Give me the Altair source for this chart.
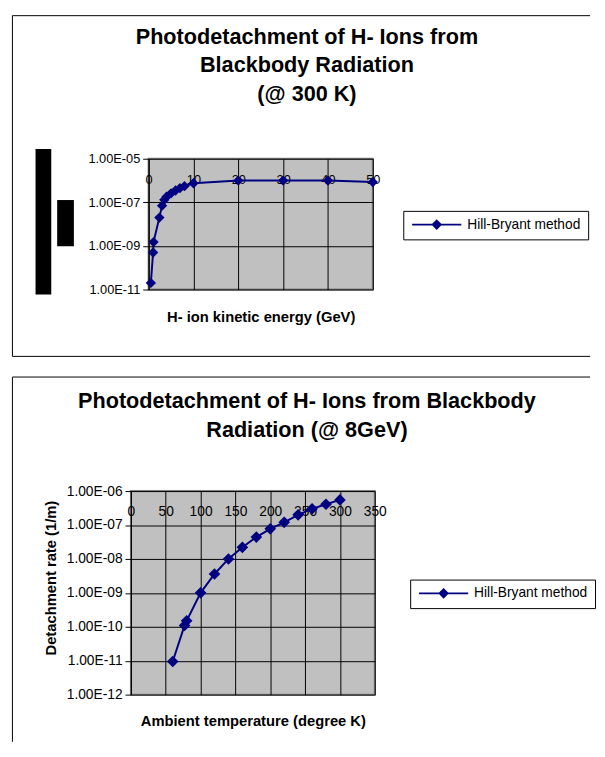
import altair as alt
import pandas as pd

FONT = "Liberation Sans"
NAVY = "#000080"
SERIES = "Hill-Bryant method"

# ---- Chart 1: rate vs H- kinetic energy (@ 300 K) ----
energy_gev = [0.5, 1.0, 1.1, 2.4, 3.0, 3.5, 4.0, 5.0, 6.0, 7.0, 8.0, 10.0, 20.0, 30.0, 40.0, 50.0]
rate_300k = [2.0e-11, 5.0e-10, 1.5e-9, 2.0e-8, 7.0e-8, 1.3e-7, 1.8e-7, 2.6e-7, 3.5e-7,
             4.5e-7, 5.5e-7, 7.5e-7, 1.0e-6, 1.0e-6, 1.0e-6, 8.5e-7]
energy_ticks = [0, 10, 20, 30, 40, 50]
rate_ticks_top = [1e-11, 1e-9, 1e-7, 1e-5]
title_top = ["Photodetachment of H- Ions from", "Blackbody Radiation", "(@ 300 K)"]
xtitle_top = "H- ion kinetic energy (GeV)"

# ---- Chart 2: rate vs ambient temperature (@ 8 GeV) ----
temperature_k = [60, 77, 80, 100, 120, 140, 160, 180, 200, 220, 240, 260, 280, 300]
rate_8gev = [9.5e-12, 1.1e-10, 1.5e-10, 1.0e-9, 3.6e-9, 1.0e-8, 2.2e-8, 4.4e-8, 7.7e-8,
             1.2e-7, 2.0e-7, 3.0e-7, 4.1e-7, 5.5e-7]
temperature_ticks = [0, 50, 100, 150, 200, 250, 300, 350]
rate_ticks_bottom = [1e-12, 1e-11, 1e-10, 1e-9, 1e-8, 1e-7, 1e-6]
title_bottom = ["Photodetachment of H- Ions from Blackbody", "Radiation (@ 8GeV)"]
xtitle_bottom = "Ambient temperature (degree K)"
ytitle_bottom = "Detachment rate (1/m)"

EXP_LABEL = ("'1.00E-' + (round(-log(datum.value)/LN10) < 10 ? '0' : '') + "
             "round(-log(datum.value)/LN10)")
LEGEND_PATH = "M-5,0L5,0M0,-0.8L0.8,0L0,0.8L-0.8,0Z"

one = pd.DataFrame({"k": [0]})


def rule(x, x2, y, y2):
    return alt.Chart(one).mark_rule(color="black", strokeWidth=1).encode(
        x=alt.value(x), x2=alt.value(x2), y=alt.value(y), y2=alt.value(y2))


def block(x, x2, y, y2):
    return alt.Chart(one).mark_rect(color="black").encode(
        x=alt.value(x), x2=alt.value(x2), y=alt.value(y), y2=alt.value(y2))


def spacer():
    return alt.Chart(one).mark_rule(opacity=0, strokeWidth=0).encode(
        x=alt.value(0), y=alt.value(0), y2=alt.value(1)
    ).properties(width=1, height=1,
                 view=alt.ViewBackground(fill="transparent", stroke="transparent"))


def legend(lx, ly):
    return alt.Legend(title=None, orient="none", legendX=lx, legendY=ly,
                      symbolType=LEGEND_PATH, symbolSize=100, symbolStrokeWidth=2,
                      symbolStrokeColor=NAVY, symbolFillColor=NAVY, symbolOffset=20,
                      labelFontSize=14, labelColor="black", labelFont=FONT,
                      labelOffset=24, strokeColor="black", fillColor="white",
                      padding=7)


def panel(df, xf, yf, W, H, x0, xdom, xticks, ydom, yticks, lab_size, xtitle, xt_size,
          xt_y, ytitle, lx, ly, title, tdy, pt_size, key):
    color = alt.Color("S:N", scale=alt.Scale(domain=[SERIES], range=[NAVY]),
                      legend=legend(lx, ly), title=key)
    x = alt.X(f"{xf}:Q", scale=alt.Scale(domain=xdom, nice=False, zero=False),
              axis=alt.Axis(values=xticks, orient="bottom", domain=False, ticks=False,
                            tickSize=0, labelPadding=-(H - 21), labelBaseline="middle",
                            labelFlush=False, labelOverlap=False, labelFontSize=lab_size,
                            labelColor="black", labelFont=FONT, gridColor="black",
                            gridOpacity=1, title=xtitle, titleFontSize=xt_size,
                            titleFont=FONT, titleFontWeight="bold", titleColor="black",
                            titleY=xt_y, titleBaseline="middle"))
    yaxis = dict(values=yticks, labelExpr=EXP_LABEL, tickSize=6, tickColor="black",
                 domainColor="black", gridColor="black", gridOpacity=1,
                 labelFontSize=lab_size, labelColor="black", labelFont=FONT,
                 labelPadding=3)
    if ytitle:
        yaxis.update(title=ytitle, titleFontSize=15, titleFont=FONT,
                     titleFontWeight="bold", titleColor="black", titleAngle=270,
                     titleX=-82, titleY=88, titleBaseline="middle", titleAlign="center")
    else:
        yaxis.update(title=None)
    y = alt.Y(f"{yf}:Q", scale=alt.Scale(type="log", domain=ydom, nice=False),
              axis=alt.Axis(**yaxis))
    base = alt.Chart(df)
    line = base.mark_line(strokeWidth=2).encode(x=x, y=y, color=color)
    pts = base.mark_point(shape="diamond", filled=True, size=pt_size, color=NAVY,
                          opacity=1).encode(x=x, y=y)
    # title centred on the whole framed box (page x ~309), not on the plot
    return line, pts, alt.TitleParams(text=title, anchor="start", align="center",
                                      frame="group", dx=309 - x0, dy=tdy, offset=0,
                                      baseline="top", fontSize=22, font=FONT,
                                      fontWeight="bold", lineHeight=29, color="black")


df1 = pd.DataFrame({"E": energy_gev, "R": rate_300k, "S": SERIES})
df2 = pd.DataFrame({"T": temperature_k, "R": rate_8gev, "S": SERIES})

W1, H1 = 228, 133
l1, p1, t1 = panel(df1, "E", "R", W1, H1, 148, [0, 50], energy_ticks, [1e-11, 1e-5],
                   rate_ticks_top, 13, xtitle_top, 15, 28, None, 259, 53,
                   title_top, 92, 110, "a")
top = alt.layer(
    rule(-138.5, 449, -145.5, -145.5),
    rule(-138.5, 449, 201, 201),
    rule(-138.5, -138.5, -145.5, 201),
    block(-115, -99, -10, 138),
    block(-93, -76, 42, 89),
    l1, p1,
).properties(width=W1, height=H1, title=t1)

W2, H2 = 248, 207
l2, p2, t2 = panel(df2, "T", "R", W2, H2, 130, [0, 350], temperature_ticks, [1e-12, 1e-6],
                   rate_ticks_bottom, 14, xtitle_bottom, 15, 26, ytitle_bottom, 284, 90,
                   title_bottom, 66.5, 140, "b")
bottom = alt.layer(
    rule(-120.5, 467, -116, -116),
    rule(-120.5, -120.5, -116, 255),
    l2, p2,
).properties(width=W2, height=H2, title=t2)

row1 = alt.hconcat(spacer(), top, spacing=0).resolve_scale(color="independent").resolve_legend(color="independent")
row2 = alt.hconcat(spacer(), bottom, spacing=0).resolve_scale(color="independent").resolve_legend(color="independent")

chart = alt.vconcat(row1, row2, spacing=17).resolve_scale(
    color="independent").resolve_legend(color="independent").properties(
    padding=0, background="white").configure(font=FONT).configure_view(
    fill="#C0C0C0", stroke="#808080", strokeWidth=2)

chart.save("out.html", embed_options={"renderer": "svg", "actions": False})
